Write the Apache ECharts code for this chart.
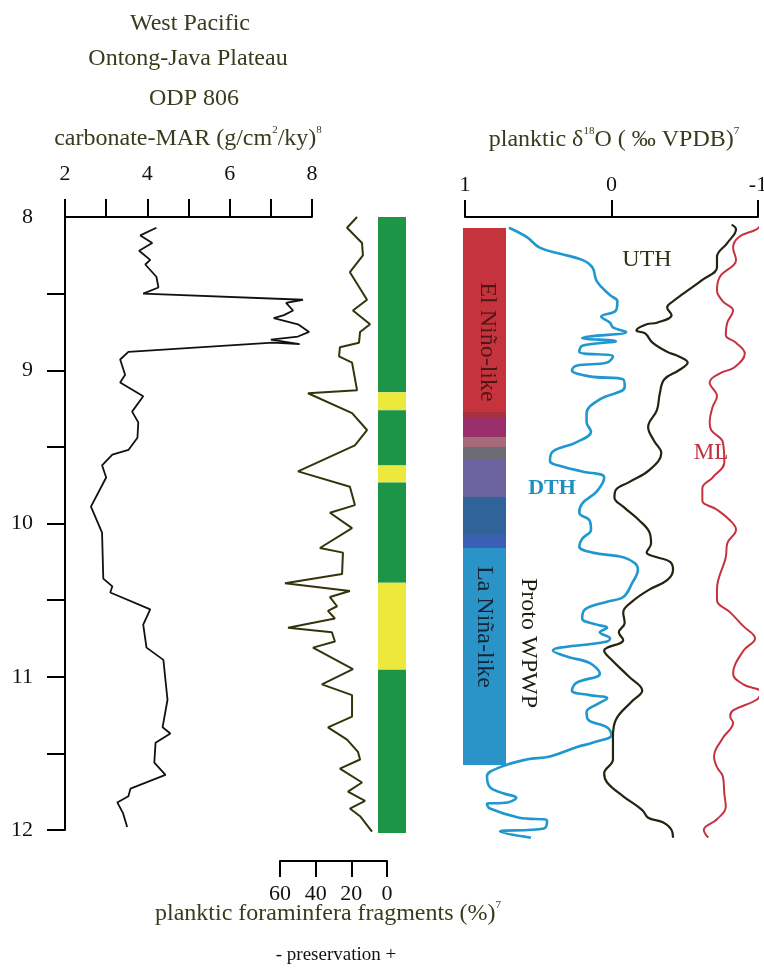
<!DOCTYPE html>
<html>
<head>
<meta charset="utf-8">
<script src="https://cdn.jsdelivr.net/npm/echarts@6/dist/echarts.min.js"></script>
<style>
  html, body { margin: 0; padding: 0; background: #ffffff; }
  #chart { width: 764px; height: 969px; }
</style>
</head>
<body>
<div id="chart"></div>
<script>
// ---- ODP 806 carbonate mass accumulation rate (age in Ma, g/cm2/ky)
const marAge   = [8.07, 8.12, 8.17, 8.22, 8.28, 8.31, 8.39, 8.46, 8.50, 8.54, 8.56, 8.61, 8.64, 8.66, 8.70, 8.75, 8.78, 8.80, 8.83, 8.82, 8.88, 8.93, 9.03, 9.08, 9.17, 9.27, 9.34, 9.44, 9.52, 9.55, 9.62, 9.70, 9.89, 10.06, 10.36, 10.41, 10.45, 10.56, 10.66, 10.81, 10.89, 11.15, 11.33, 11.37, 11.43, 11.56, 11.64, 11.73, 11.78, 11.82, 11.89, 11.98];
const marValue = [4.22, 3.83, 4.12, 3.80, 4.07, 3.95, 4.22, 4.27, 3.90, 7.78, 7.37, 7.54, 7.32, 7.07, 7.66, 7.93, 7.66, 7.00, 7.70, 7.05, 3.54, 3.34, 3.46, 3.34, 3.90, 3.63, 3.78, 3.76, 3.54, 3.15, 2.90, 3.00, 2.63, 2.90, 2.93, 3.15, 3.10, 4.07, 3.90, 3.98, 4.39, 4.49, 4.37, 4.56, 4.20, 4.17, 4.44, 3.59, 3.54, 3.27, 3.41, 3.51];

// ---- planktic foraminifera fragments (%)
const fragAge = [8.00, 8.07, 8.17, 8.25, 8.36, 8.54, 8.61, 8.70, 8.75, 8.82, 8.85, 8.91, 8.95, 9.13, 9.15, 9.28, 9.39, 9.49, 9.66, 9.76, 9.88, 9.93, 10.03, 10.16, 10.19, 10.33, 10.39, 10.44, 10.48, 10.54, 10.57, 10.62, 10.68, 10.71, 10.77, 10.81, 10.95, 11.05, 11.12, 11.26, 11.33, 11.41, 11.49, 11.54, 11.60, 11.69, 11.75, 11.81, 11.86, 11.91, 12.01];
const fragPct = [16.8, 22.4, 14.0, 13.5, 20.8, 11.2, 19.1, 9.5, 15.1, 15.7, 26.4, 26.9, 19.6, 16.8, 44.3, 19.6, 11.2, 18.0, 49.9, 20.8, 18.0, 32.0, 19.6, 37.6, 24.7, 25.2, 57.2, 20.8, 32.0, 28.0, 33.1, 29.2, 55.5, 30.9, 29.2, 41.5, 19.1, 36.5, 19.6, 19.6, 33.1, 22.4, 16.3, 15.1, 26.4, 14.0, 21.9, 12.3, 20.8, 15.1, 8.4];

// ---- preservation intervals (boundaries in Ma) and state of each interval
const preservationBreaks = [8.0, 9.144, 9.261, 9.621, 9.732, 10.386, 10.954, 12.02];
const preservationState  = ['good', 'poor', 'good', 'poor', 'good', 'poor', 'good'];

// ---- ENSO-state column (boundaries in Ma) and phase of each interval
const regimeBreaks = [8.072, 9.272, 9.312, 9.436, 9.501, 9.586, 9.827, 10.075, 10.16, 11.576];
const regimePhase  = ['elnino', 'shift1', 'shift2', 'shift3', 'shift4', 'shift5', 'shift6', 'shift7', 'lanina'];

// ---- planktic d18O (per mil VPDB): deep thermocline, upper thermocline, mixed layer
const dthAge   = [8.07, 8.13, 8.20, 8.24, 8.28, 8.33, 8.42, 8.51, 8.55, 8.61, 8.65, 8.69, 8.72, 8.75, 8.78, 8.79, 8.81, 8.84, 8.88, 8.91, 8.95, 8.97, 9.00, 9.04, 9.06, 9.11, 9.19, 9.28, 9.34, 9.40, 9.47, 9.53, 9.59, 9.63, 9.66, 9.70, 9.79, 9.87, 9.93, 9.98, 10.04, 10.10, 10.15, 10.19, 10.22, 10.26, 10.30, 10.39, 10.48, 10.51, 10.56, 10.62, 10.66, 10.68, 10.71, 10.75, 10.77, 10.83, 10.87, 10.91, 10.98, 11.04, 11.09, 11.12, 11.14, 11.18, 11.23, 11.28, 11.33, 11.38, 11.43, 11.46, 11.52, 11.54, 11.59, 11.65, 11.72, 11.76, 11.79, 11.82, 11.83, 11.86, 11.92, 11.94, 11.99, 12.01, 12.05];
const dthValue = [0.70, 0.58, 0.49, 0.35, 0.20, 0.13, 0.10, 0.01, -0.04, -0.03, 0.07, 0.01, -0.01, -0.10, 0.15, 0.20, -0.03, 0.20, 0.22, -0.01, 0.03, 0.24, 0.27, 0.15, -0.08, -0.09, 0.08, 0.17, 0.17, 0.14, 0.24, 0.40, 0.42, 0.33, 0.20, 0.05, 0.10, 0.20, 0.22, 0.15, 0.14, 0.20, 0.22, 0.13, -0.08, -0.16, -0.18, -0.14, -0.08, 0.03, 0.18, 0.20, 0.10, 0.03, 0.08, 0.01, 0.03, 0.40, 0.30, 0.15, 0.08, 0.24, 0.27, 0.15, 0.03, 0.10, 0.17, 0.16, 0.03, 0.00, 0.13, 0.24, 0.42, 0.58, 0.76, 0.85, 0.83, 0.74, 0.65, 0.71, 0.85, 0.83, 0.63, 0.44, 0.46, 0.76, 0.55];

const uthAge   = [8.05, 8.08, 8.17, 8.26, 8.33, 8.41, 8.50, 8.55, 8.59, 8.64, 8.69, 8.70, 8.74, 8.76, 8.82, 8.88, 8.91, 8.95, 9.00, 9.06, 9.15, 9.26, 9.37, 9.46, 9.54, 9.65, 9.73, 9.78, 9.83, 9.89, 9.98, 10.06, 10.13, 10.19, 10.22, 10.25, 10.30, 10.37, 10.43, 10.51, 10.58, 10.65, 10.71, 10.76, 10.83, 10.88, 11.00, 11.09, 11.16, 11.28, 11.39, 11.54, 11.63, 11.69, 11.78, 11.87, 11.92, 11.95, 12.00, 12.05];
const uthValue = [-0.82, -0.85, -0.79, -0.72, -0.72, -0.62, -0.49, -0.42, -0.38, -0.41, -0.31, -0.24, -0.17, -0.23, -0.28, -0.38, -0.46, -0.52, -0.46, -0.36, -0.33, -0.31, -0.25, -0.29, -0.34, -0.26, -0.12, -0.03, -0.02, -0.08, -0.19, -0.26, -0.27, -0.24, -0.31, -0.40, -0.42, -0.38, -0.26, -0.14, -0.08, -0.09, -0.05, -0.08, 0.05, 0.01, -0.12, -0.21, -0.14, -0.03, -0.01, -0.01, 0.05, 0.03, -0.08, -0.21, -0.25, -0.35, -0.41, -0.42];

const mlAge   = [8.05, 8.08, 8.13, 8.20, 8.28, 8.39, 8.48, 8.55, 8.61, 8.69, 8.77, 8.82, 8.89, 8.98, 9.02, 9.08, 9.17, 9.24, 9.34, 9.39, 9.47, 9.60, 9.70, 9.77, 9.85, 9.91, 9.98, 10.04, 10.13, 10.22, 10.43, 10.50, 10.58, 10.67, 10.75, 10.83, 10.98, 11.05, 11.10, 11.15, 11.22, 11.26, 11.30, 11.40, 11.52, 11.59, 11.65, 11.76, 11.85, 11.93, 12.00, 12.05];
const mlValue = [-1.02, -0.99, -0.87, -0.83, -0.85, -0.74, -0.72, -0.76, -0.83, -0.79, -0.78, -0.85, -0.91, -0.84, -0.74, -0.67, -0.72, -0.69, -0.67, -0.68, -0.76, -0.77, -0.69, -0.62, -0.62, -0.72, -0.81, -0.85, -0.79, -0.78, -0.72, -0.72, -0.81, -0.90, -0.98, -0.90, -0.83, -0.90, -1.02, -0.99, -0.83, -0.81, -0.83, -0.76, -0.70, -0.72, -0.76, -0.77, -0.78, -0.72, -0.63, -0.66];

// ---- axis tick values
const ageTicks  = [8, 9, 10, 11, 12];
const ageMinorTicks = [8.5, 9, 9.5, 10, 10.5, 11, 11.5, 12];
const marTicks  = [2, 4, 6, 8];
const fragTicks = [60, 40, 20, 0];
const isoTicks  = [1, 0, -1];

// ---- styling
const SERIF = '"Liberation Serif", "Times New Roman", "DejaVu Serif", serif';
const TITLE_COLOR = '#3a3a1c';
const preservationColor = { good: '#1d9548', poor: '#ede83c' };
const regimeColor = {
  elnino: '#c5343c', shift1: '#a8303e', shift2: '#9a2f6c', shift3: '#a66a78',
  shift4: '#6f6b74', shift5: '#6c64a0', shift6: '#2f6399', shift7: '#3a5fb4', lanina: '#2a94c9'
};

const pairs = (xs, ys) => xs.map((x, i) => [x, ys[i]]);
const spans = (breaks) => breaks.slice(0, -1).map((b, i) => [b, breaks[i + 1]]);

const axisLineStyle = { color: '#000', width: 2 };
const labelFont = { fontFamily: SERIF, fontSize: 22, color: '#111' };

function hiddenAxis(gridIndex, min, max, inverse) {
  return { gridIndex, type: 'value', show: false, min, max, inverse: !!inverse };
}

function bandRenderer(colorOf) {
  return function (params, api) {
    const a = api.coord([0, api.value(0)]);
    const b = api.coord([1, api.value(1)]);
    return {
      type: 'rect',
      shape: { x: a[0], y: a[1], width: b[0] - a[0], height: b[1] - a[1] },
      style: { fill: colorOf(params.dataIndex) }
    };
  };
}

const superRich = (size) => ({
  m: { fontFamily: SERIF, fontSize: size, lineHeight: size + 4, fill: TITLE_COLOR, color: TITLE_COLOR },
  s: { fontFamily: SERIF, fontSize: Math.round(size * 0.45), verticalAlign: 'top', fill: TITLE_COLOR, color: TITLE_COLOR }
});

function plainText(x, y, text, size, color, extra) {
  return Object.assign({
    type: 'text', x, y, z: 100,
    style: {
      text, fill: color, font: size + 'px ' + SERIF,
      align: 'center', verticalAlign: 'middle', textAlign: 'center', textVerticalAlign: 'middle'
    }
  }, extra || {});
}

function richTitle(x, y, text, size) {
  const t = plainText(x, y, text, size, TITLE_COLOR);
  t.style.rich = superRich(size);
  return t;
}

function rotatedLabel(x, y, text, color, size) {
  return plainText(x, y, text, size, color, { rotation: -Math.PI / 2 });
}

const chart = echarts.init(document.getElementById('chart'), null, { renderer: 'canvas' });

const option = {
  backgroundColor: '#ffffff',
  animation: false,
  grid: [
    { left: 65, top: 217, width: 247, height: 613, outerBoundsMode: 'none', containLabel: false },
    { left: 280, top: 217, width: 107, height: 613, outerBoundsMode: 'none', containLabel: false },
    { left: 378, top: 217, width: 28, height: 613, outerBoundsMode: 'none', containLabel: false },
    { left: 465, top: 217, width: 293, height: 613, outerBoundsMode: 'none', containLabel: false },
    { left: 463, top: 217, width: 43, height: 613, outerBoundsMode: 'none', containLabel: false }
  ],
  xAxis: [
    {
      gridIndex: 0, type: 'value', position: 'top', min: 2, max: 8, interval: 1,
      axisLine: { show: true, onZero: false, lineStyle: axisLineStyle },
      axisTick: { show: true, length: 18, lineStyle: axisLineStyle },
      axisLabel: Object.assign({ margin: 32, formatter: v => marTicks.includes(v) ? String(v) : '' }, labelFont),
      splitLine: { show: false }
    },
    {
      gridIndex: 1, type: 'value', position: 'bottom', offset: 31, inverse: true, min: 0, max: 60, interval: 20,
      axisLine: { show: true, onZero: false, lineStyle: axisLineStyle },
      axisTick: { show: true, length: 16, lineStyle: axisLineStyle },
      axisLabel: Object.assign({ margin: 22, formatter: v => fragTicks.includes(v) ? String(v) : '' }, labelFont),
      splitLine: { show: false }
    },
    hiddenAxis(2, 0, 1),
    {
      gridIndex: 3, type: 'value', position: 'top', inverse: true, min: -1, max: 1, interval: 1,
      axisLine: { show: true, onZero: false, lineStyle: axisLineStyle },
      axisTick: { show: true, length: 17, lineStyle: axisLineStyle },
      axisLabel: Object.assign({ margin: 21, formatter: v => isoTicks.includes(v) ? String(v) : '' }, labelFont),
      splitLine: { show: false }
    },
    hiddenAxis(4, 0, 1)
  ],
  yAxis: [
    {
      gridIndex: 0, type: 'value', inverse: true, min: 8, max: 12, interval: 0.5,
      axisLine: { show: true, onZero: false, lineStyle: axisLineStyle },
      axisTick: { show: true, length: 18, lineStyle: axisLineStyle, customValues: ageMinorTicks },
      axisLabel: Object.assign({ margin: 32, formatter: v => ageTicks.includes(v) ? String(v) : '' }, labelFont),
      splitLine: { show: false }
    },
    hiddenAxis(1, 8, 12, true),
    hiddenAxis(2, 8, 12, true),
    hiddenAxis(3, 8, 12, true),
    hiddenAxis(4, 8, 12, true)
  ],
  series: [
    {
      name: 'carbonate-MAR', type: 'line', xAxisIndex: 0, yAxisIndex: 0,
      data: pairs(marValue, marAge), symbol: 'none', clip: false,
      lineStyle: { color: '#111111', width: 1.8 }
    },
    {
      name: 'fragments', type: 'line', xAxisIndex: 1, yAxisIndex: 1,
      data: pairs(fragPct, fragAge), symbol: 'none', clip: false,
      lineStyle: { color: '#34340c', width: 2 }
    },
    {
      name: 'preservation', type: 'custom', xAxisIndex: 2, yAxisIndex: 2,
      data: spans(preservationBreaks),
      renderItem: bandRenderer(i => preservationColor[preservationState[i]])
    },
    {
      name: 'ENSO state', type: 'custom', xAxisIndex: 4, yAxisIndex: 4,
      data: spans(regimeBreaks),
      renderItem: bandRenderer(i => regimeColor[regimePhase[i]])
    },
    {
      name: 'DTH', type: 'line', xAxisIndex: 3, yAxisIndex: 3,
      data: pairs(dthValue, dthAge), symbol: 'none', smooth: 0.4, clip: false,
      lineStyle: { color: '#1f98cf', width: 2.6 }
    },
    {
      name: 'UTH', type: 'line', xAxisIndex: 3, yAxisIndex: 3,
      data: pairs(uthValue, uthAge), symbol: 'none', smooth: 0.4, clip: false,
      lineStyle: { color: '#23230f', width: 2.2 }
    },
    {
      name: 'ML', type: 'line', xAxisIndex: 3, yAxisIndex: 3,
      data: pairs(mlValue, mlAge), symbol: 'none', smooth: 0.4, clip: false,
      lineStyle: { color: '#c6323f', width: 2 }
    }
  ],
  graphic: [
    plainText(190, 24, 'West Pacific', 24, TITLE_COLOR),
    plainText(188, 59, 'Ontong-Java Plateau', 24, TITLE_COLOR),
    plainText(194, 99, 'ODP 806', 24, TITLE_COLOR),
    richTitle(188, 139, '{m|carbonate-MAR (g/cm}{s|2}{m|/ky)}{s|8}', 24),
    richTitle(614, 140, '{m|planktic δ}{s|18}{m|O ( ‰ VPDB)}{s|7}', 24),
    richTitle(328, 914, '{m|planktic foraminfera fragments (%)}{s|7}', 24),
    plainText(336, 955, '- preservation +', 19, '#111'),
    rotatedLabel(487, 342, 'El Niño-like', '#4a1818', 24),
    rotatedLabel(484, 627, 'La Niña-like', '#162533', 24),
    rotatedLabel(528, 643, 'Proto WPWP', '#1e1e10', 24),
    plainText(647, 260, 'UTH', 24, '#333318'),
    plainText(552, 488, 'DTH', 22, '#1e8fc0', { style: { text: 'DTH', fill: '#1e8fc0', font: 'bold 22px ' + SERIF, align: 'center', verticalAlign: 'middle', textAlign: 'center', textVerticalAlign: 'middle' } }),
    plainText(711, 453, 'ML', 23, '#c0303c')
  ]
};

chart.setOption(option);
</script>
</body>
</html>
